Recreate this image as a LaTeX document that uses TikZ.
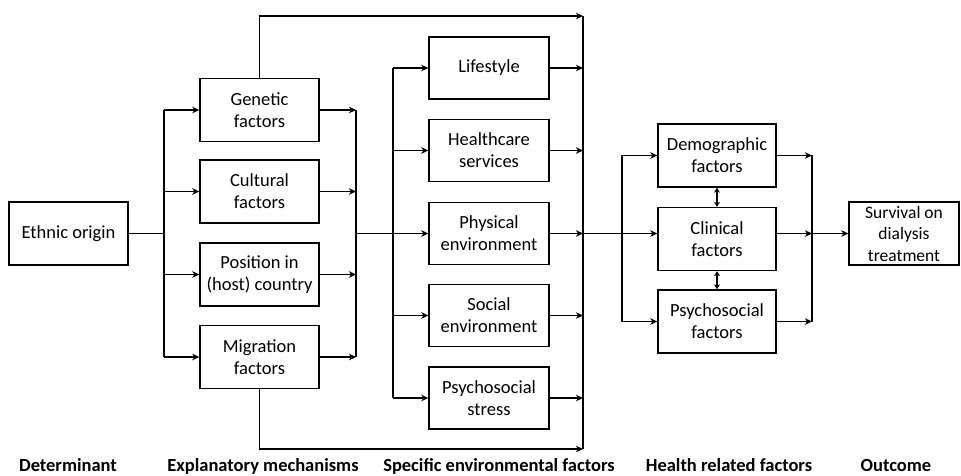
\documentclass[tikz,border=0pt]{standalone}
\usepackage{fontspec}
\setmainfont{Carlito}
\usetikzlibrary{arrows.meta}
\begin{document}
\begin{tikzpicture}[x=1pt,y=-1pt,
  box/.style={draw,line width=1.4pt,align=center,inner sep=0pt,
    font=\fontsize{18.5}{22}\selectfont},
  wire/.style={line width=1.6pt},
  arr/.style={wire,-{Stealth[length=7pt,width=6.5pt,inset=2pt]}},
  darr/.style={wire,{Stealth[length=5pt,width=6pt]}-{Stealth[length=5pt,width=6pt]}},
  heading/.style={font=\fontsize{18.5}{22}\bfseries\selectfont,anchor=base}]
\useasboundingbox (0,0) rectangle (961,476);

% determinant
\node[box,minimum width=119pt,minimum height=63pt] (eth) at (68.5,233.5) {Ethnic origin};

% explanatory mechanisms
\begin{scope}[every node/.style={box,minimum width=119pt,minimum height=63pt}]
\node (gen) at (259.5,110) {Genetic\\factors};
\node (cul) at (259.5,191.5) {Cultural\\factors};
\node (pos) at (259.5,274.5) {Position in\\(host) country};
\node (mig) at (259.5,357) {Migration\\factors};
\end{scope}

% specific environmental factors
\begin{scope}[every node/.style={box,minimum width=120pt,minimum height=62pt}]
\node (life) at (489,68) {Lifestyle};
\node (care) at (489,150.5) {Healthcare\\services};
\node (phys) at (489,233.5) {Physical\\environment};
\node (soc) at (489,315.5) {Social\\environment};
\node (stress) at (489,398) {Psychosocial\\stress};
\end{scope}

% health related factors
\begin{scope}[every node/.style={box,minimum width=118pt,minimum height=63pt}]
\node (dem) at (717,155.5) {Demographic\\factors};
\node (clin) at (717,239) {Clinical\\factors};
\node (psy) at (717,321.5) {Psychosocial\\factors};
\end{scope}

% outcome
\node[box,minimum width=110pt,minimum height=63pt,
  font=\fontsize{17.5}{21.5}\selectfont] (out) at (904,233.5) {Survival on\\dialysis\\treatment};

% bus lines
\coordinate (b1t) at (164,110);  \coordinate (b1b) at (164,357);
\coordinate (b2t) at (356,110);  \coordinate (b2b) at (356,357);
\coordinate (b3t) at (393,68);   \coordinate (b3b) at (393,398);
\coordinate (b4t) at (583,16);   \coordinate (b4b) at (583,449);
\coordinate (b5t) at (622,155.5);\coordinate (b5b) at (622,321.5);
\coordinate (b6t) at (812,155.5);\coordinate (b6b) at (812,321.5);
\foreach \b in {1,...,6} \draw[wire] (b\b t) -- (b\b b);

% determinant to explanatory mechanisms
\draw[wire] (eth.east) -- (164,233.5);
\foreach \n in {gen,cul,pos,mig}
  \draw[arr] (b1t |- \n.west) -- (\n.west);
\foreach \n in {gen,cul,pos,mig}
  \draw[arr] (\n.east) -- (b2t |- \n.east);

% explanatory mechanisms to environmental factors
\draw[arr] (b2t |- phys.west) -- (phys.west);
\foreach \n in {life,care,soc,stress}
  \draw[arr] (b3t |- \n.west) -- (\n.west);
\foreach \n in {life,care,phys,soc,stress}
  \draw[arr] (\n.east) -- (b4t |- \n.east);

% direct paths around the environmental factors
\draw[arr] (gen.north) |- (b4t);
\draw[arr] (mig.south) |- (b4b);

% environmental factors to health related factors
\draw[arr] (b4t |- 0,233.5) -- (clin.west |- 0,233.5);
\draw[arr] (b5t |- dem.west) -- (dem.west);
\draw[arr] (b5t |- psy.west) -- (psy.west);
\draw[darr] (dem.south) -- (clin.north);
\draw[darr] (clin.south) -- (psy.north);
\foreach \n in {dem,psy}
  \draw[arr] (\n.east) -- (b6t |- \n.east);
\draw[arr] (clin.east |- 0,233.5) -- (b6t |- 0,233.5);
\draw[arr] (b6t |- out.west) -- (out.west);

% column headings
\node[heading] (h1) at (68,471) {Determinant};
\node[heading] (h2) at (263,471) {Explanatory mechanisms};
\node[heading] (h3) at (499,471) {Specific environmental factors};
\node[heading] (h4) at (729,471) {Health related factors};
\node[heading] (h5) at (896,471) {Outcome};
\end{tikzpicture}
\end{document}
